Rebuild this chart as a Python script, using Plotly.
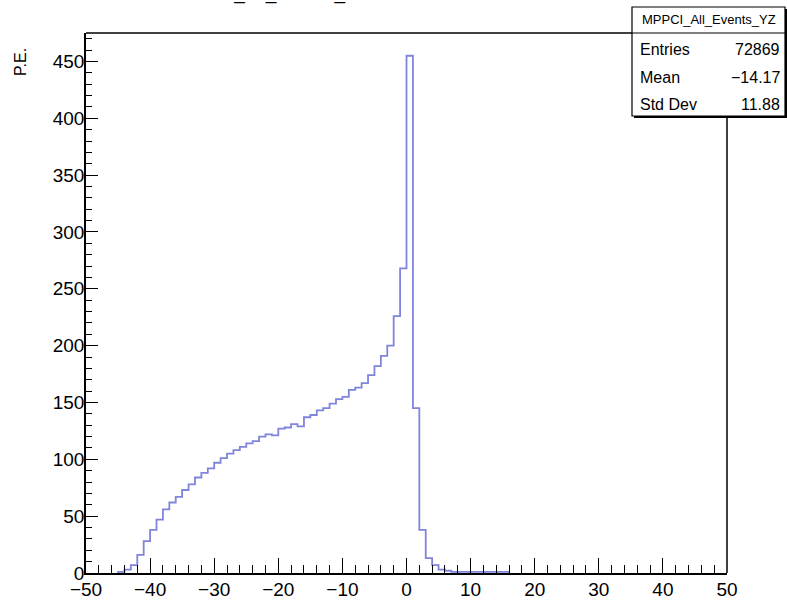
import plotly.graph_objects as go

# ---------------- data ----------------
bin_low_edges = list(range(-50, 50))          # 1-unit bins from -50 to 50
bin_upper_limit = 50
counts = [
    0, 0, 0, 0, 0,                              # -50 .. -46
    1, 3, 7, 16, 28, 38, 47, 56, 62, 67,        # -45 .. -36
    73, 78, 84, 88, 92, 97, 101, 105, 108, 111, # -35 .. -26
    114, 116, 120, 122, 121, 127, 128, 131, 129, 137,  # -25 .. -16
    139, 143, 145, 149, 153, 155, 161, 163, 167, 174,  # -15 .. -6
    182, 191, 200, 226, 268,                    # -5 .. -1
    455, 145, 38, 13, 7, 3, 2, 1, 1, 1,         # 0 .. 9
    1, 1, 1, 1, 1, 1,                           # 10 .. 15
    0, 0, 0, 0, 0, 0, 0, 0, 0, 0,               # 16 .. 25
    0, 0, 0, 0, 0, 0, 0, 0, 0, 0,               # 26 .. 35
    0, 0, 0, 0, 0, 0, 0, 0, 0, 0,               # 36 .. 45
    0, 0, 0, 0,                                 # 46 .. 49
]
x_range = [-50, 50]
y_range = [0, 475]
y_title = "P.E."
hist_title = "MPPCI_All_Events_YZ"
stats_title = "MPPCI_All_Events_YZ"
stats_labels = ["Entries", "Mean", "Std Dev"]
stats_values = ["72869", "\u221214.17", "11.88"]

# ---------------- layout helpers ----------------
W, H = 787, 600
L, R, T, B = 86, 727, 33, 573
FONT = "Liberation Sans, Arial, Helvetica, sans-serif"


def px(x):
    return (x - L) / (R - L)


def py(y):
    return (B - y) / (B - T)


# histogram outline (zero-content bins lie under the frame in the original)
nz = [i for i, c in enumerate(counts) if c > 0]
i0, i1 = nz[0], nz[-1]
edges = bin_low_edges + [bin_upper_limit]
xs = [edges[i0]] + [edges[i] for i in range(i0, i1 + 1)] + [edges[i1 + 1], edges[i1 + 1]]
ys = [0] + [counts[i] for i in range(i0, i1 + 1)] + [counts[i1], 0]

fig = go.Figure()
fig.add_trace(go.Scatter(
    x=xs, y=ys, mode="lines",
    line=dict(shape="hv", color="#7f84dc", width=1.8),
    hoverinfo="skip", showlegend=False,
))

axis_common = dict(
    showline=True, linecolor="black", linewidth=1.5, mirror=False,
    showgrid=False, zeroline=False, ticks="inside", tickcolor="black",
    tickwidth=1.3, tickfont=dict(family=FONT, size=19, color="black"),
    layer="above traces", fixedrange=True, automargin=False,
)

fig.update_layout(
    width=W, height=H,
    margin=dict(l=L, r=W - R, t=T, b=H - B, pad=0, autoexpand=False),
    paper_bgcolor="white", plot_bgcolor="white",
    xaxis=dict(range=x_range, tickmode="linear", tick0=-50, dtick=10, ticklen=15,
               ticklabelstandoff=-2,
               minor=dict(dtick=2, ticks="inside", ticklen=8, tickwidth=1.3,
                          tickcolor="black", showgrid=False),
               **axis_common),
    yaxis=dict(range=y_range, tickmode="linear", tick0=0, dtick=50, ticklen=12,
               ticklabelstandoff=-4,
               minor=dict(dtick=10, ticks="inside", ticklen=6, tickwidth=1.3,
                          tickcolor="black", showgrid=False),
               **axis_common),
    showlegend=False,
)

# top and right frame lines
fig.add_shape(type="line", xref="paper", yref="paper", x0=0, x1=1, y0=1, y1=1,
              line=dict(color="black", width=1.5), layer="above")
fig.add_shape(type="line", xref="paper", yref="paper", x0=1, x1=1, y0=0, y1=1,
              line=dict(color="black", width=1.5), layer="above")

# y-axis title (ROOT style, top-aligned)
fig.add_annotation(
    text=y_title, xref="paper", yref="paper", x=px(21), y=py(46),
    xanchor="center", yanchor="top", textangle=-90, showarrow=False,
    font=dict(family=FONT, size=16, color="black"),
)

# histogram title, mostly cropped above the canvas
fig.add_annotation(
    text=hist_title, xref="paper", yref="paper", x=px(172), y=py(6),
    xanchor="left", yanchor="bottom", showarrow=False,
    font=dict(family=FONT, size=19, color="black"),
)

# stats box
bx0, bx1, by0, by1 = 632, 785, 7, 116
fig.add_shape(type="rect", xref="paper", yref="paper",
              x0=px(bx0 + 2), x1=px(bx1 + 2), y0=py(by0 + 2), y1=py(by1 + 2),
              fillcolor="black", line=dict(width=0), layer="above")
fig.add_shape(type="rect", xref="paper", yref="paper",
              x0=px(bx0), x1=px(bx1), y0=py(by0), y1=py(by1),
              fillcolor="white", line=dict(color="black", width=1.2), layer="above")
fig.add_shape(type="line", xref="paper", yref="paper",
              x0=px(bx0), x1=px(bx1), y0=py(33), y1=py(33),
              line=dict(color="black", width=1.2), layer="above")

fig.add_annotation(
    text=stats_title, xref="paper", yref="paper", x=px((bx0 + bx1) / 2), y=py(20),
    xanchor="center", yanchor="middle", showarrow=False,
    font=dict(family=FONT, size=13, color="black"),
)
row_y = [50, 77, 104]
for lab, val, yy in zip(stats_labels, stats_values, row_y):
    fig.add_annotation(text=lab, xref="paper", yref="paper", x=px(638), y=py(yy),
                       xanchor="left", yanchor="middle", showarrow=False,
                       font=dict(family=FONT, size=16, color="black"))
    fig.add_annotation(text=val, xref="paper", yref="paper", x=px(782), y=py(yy),
                       xanchor="right", yanchor="middle", showarrow=False,
                       font=dict(family=FONT, size=16, color="black"))

fig.write_html("out.html", config={"displayModeBar": False})
